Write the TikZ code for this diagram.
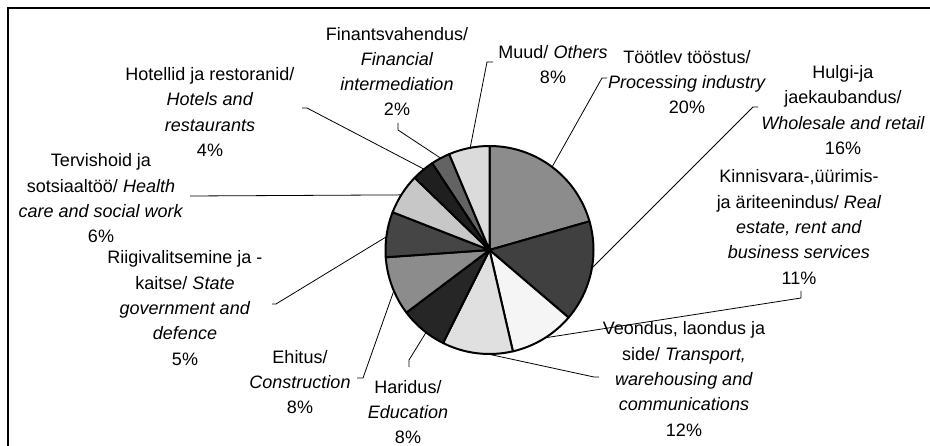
\documentclass[tikz,border=0pt]{standalone}
\usepackage{fontspec}
\setmainfont{Liberation Sans}
\usetikzlibrary{calc}
\tikzset{
  lbl/.style={align=center, font=\fontsize{18}{25.3}\selectfont, inner sep=0pt},
  leader/.style={draw=black, line width=0.8pt},
  wedge/.style={draw=black, line width=2pt, line join=round},
  frame/.style={draw=black, line width=2pt}
}
\begin{document}
\begin{tikzpicture}[x=1pt,y=1pt]
\useasboundingbox (0,0) rectangle (930,-446);
\draw[frame] (8,-446) -- (8,-8) -- (930,-8);
\coordinate (pc) at (489.5,-250);
\node[lbl] (fin) at (397,-71.5) {Finantsvahendus/\\\textit{Financial}\\\textit{intermediation}\\2\%};
\node[lbl] (muud) at (553,-64.5) {Muud/ \textit{Others}\\8\%};
\node[lbl] (toot) at (687,-82) {T\"o\"otlev t\"o\"ostus/\\\textit{Processing industry}\\20\%};
\node[lbl] (hulgi) at (843,-110) {Hulgi-ja\\jaekaubandus/\\\textit{Wholesale and retail}\\16\%};
\node[lbl] (kinn) at (799,-227) {Kinnisvara-,\"u\"urimis-\\ja \"ariteenindus/ \textit{Real}\\\textit{estate, rent and}\\\textit{business services}\\11\%};
\node[lbl] (veon) at (684,-379) {Veondus, laondus ja\\side/ \textit{Transport,}\\\textit{warehousing and}\\\textit{communications}\\12\%};
\node[lbl] (harid) at (408,-412) {Haridus/\\\textit{Education}\\8\%};
\node[lbl] (ehit) at (300,-382) {Ehitus/\\\textit{Construction}\\8\%};
\node[lbl] (riigi) at (185,-308) {Riigivalitsemine ja -\\kaitse/ \textit{State}\\\textit{government and}\\\textit{defence}\\5\%};
\node[lbl] (terv) at (101,-198.5) {Tervishoid ja\\sotsiaalt\"o\"o/ \textit{Health}\\\textit{care and social work}\\6\%};
\node[lbl] (hot) at (210,-112) {Hotellid ja restoranid/\\\textit{Hotels and}\\\textit{restaurants}\\4\%};
\foreach \n/\t in {hot/129, fin/118, muud/100.7, toot/53, hulgi/-10, kinn/-57.6, veon/-91, harid/-127.6, ehit/-156.9, riigi/172.7, terv/148}
  \coordinate (\n E) at ([shift={(\t:104)}]pc);
\coordinate (hotT) at (302,-108);
\coordinate (finT) at (398,-123);
\coordinate (muudT) at (493,-62);
\coordinate (tootT) at (607,-78);
\coordinate (hulgiT) at (758,-107);
\coordinate (kinnT) at (801,-291);
\coordinate (veonT) at (599,-377);
\coordinate (haridT) at (409,-367);
\coordinate (ehitT) at (357,-378);
\coordinate (riigiT) at (272,-304);
\coordinate (tervT) at (190,-196);
\draw[leader] (hotT) -- ++(5,0) -- (hotE);
\draw[leader] (finT) -- ++(0,-7) -- (finE);
\draw[leader] (muudT) -- ++(-6,0) -- (muudE);
\draw[leader] (tootT) -- ++(-5,0) -- (tootE);
\draw[leader] (hulgiT) -- ++(-5,0) -- (hulgiE);
\draw[leader] (kinnT) -- ++(0,-7) -- (kinnE);
\draw[leader] (veonT) -- ++(-5,0) -- (veonE);
\draw[leader] (haridT) -- ++(0,7) -- (haridE);
\draw[leader] (ehitT) -- ++(6,0) -- (ehitE);
\draw[leader] (riigiT) -- ++(4,0) -- (riigiE);
\draw[leader] (tervT) -- (tervE);
\foreach \a/\b/\g in {90/16/45, 16/-40.5/75, -40.5/-77/4, -77/-116.5/12, -116.5/-143/85, -143/-176/45, -176/-201.3/73, -201.3/-224/22, -224/-236.6/88, -236.6/-247.2/61, -247.2/-270/14}
  \filldraw[wedge, fill=black!\g] (pc) -- ([shift={(\a:104)}]pc) arc[start angle=\a, end angle=\b, radius=104] -- cycle;
\end{tikzpicture}
\end{document}
